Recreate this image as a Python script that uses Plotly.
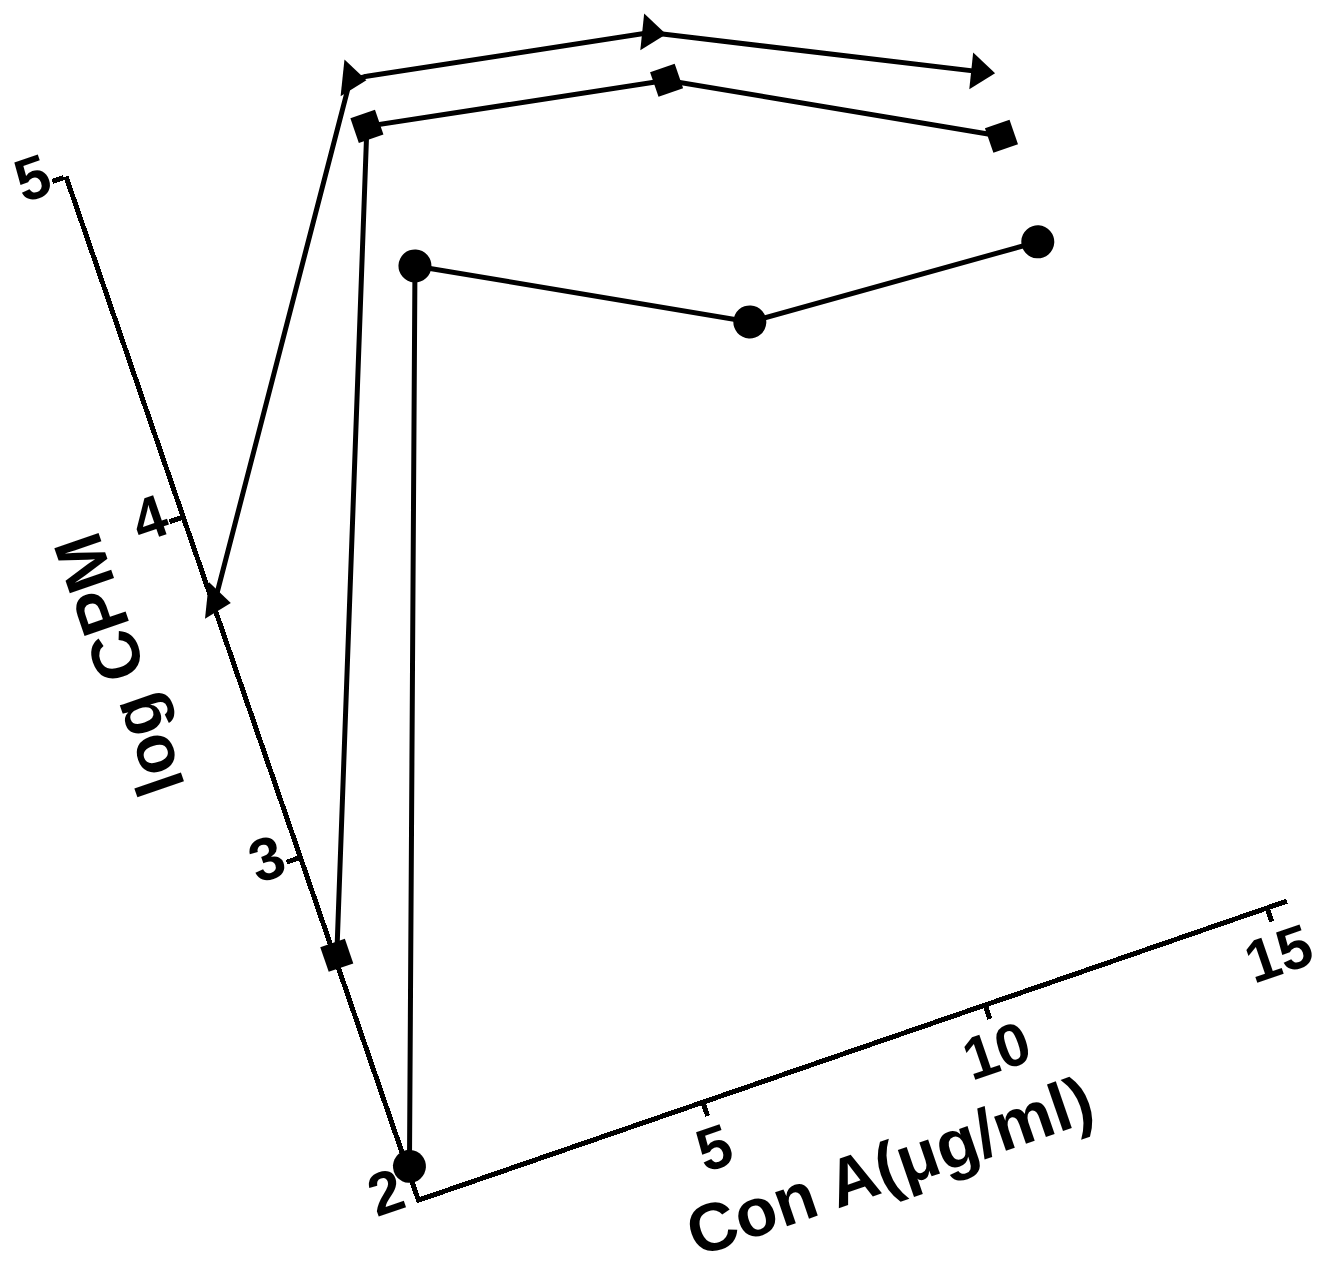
import plotly.graph_objects as go

# Con A dose (µg/ml) and log CPM for the three cell preparations
conc = [0, 5, 10, 15]
log_cpm_circle = [2.09, 4.45, 4.00, 3.95]
log_cpm_square = [2.71, 4.86, 4.71, 4.26]
log_cpm_triangle = [3.75, 5.00, 4.85, 4.45]

x_tick_vals = [5, 10, 15]
y_tick_vals = [3, 4, 5]
y_base_tick = [2]

x_title = "Con A(μg/ml)"
y_title = "log CPM"

# Page geometry: the whole chart is drawn upright and then tilted counter-clockwise
W, H = 1332, 1276
MARGIN = dict(l=200, r=216, t=64, b=132)
TILT_DEG = 19
ORIGIN_ON_PAGE = (420, 1197)

INK = "black"
LINE_W = 5
FONT = dict(family="Liberation Sans, Arial, sans-serif", size=60, color=INK, weight="bold")
TITLE_FONT = dict(FONT, size=68)

fig = go.Figure()

series = [
    (log_cpm_triangle, dict(symbol="triangle-right", size=32, angle=25)),
    (log_cpm_square, dict(symbol="square", size=26)),
    (log_cpm_circle, dict(symbol="circle", size=33)),
]
for values, mk in series:
    fig.add_trace(go.Scatter(
        x=conc, y=values, mode="lines+markers",
        line=dict(color=INK, width=LINE_W),
        marker=dict(color=INK, line=dict(width=0), **mk),
        cliponaxis=False, showlegend=False, hoverinfo="skip",
    ))

# carrier trace for the secondary y axis that only holds the "2" label
fig.add_trace(go.Scatter(x=[None], y=[None], yaxis="y2", showlegend=False, hoverinfo="skip"))

axis_common = dict(
    showline=True, linewidth=LINE_W, linecolor=INK,
    ticks="outside", ticklen=12, tickwidth=LINE_W, tickcolor=INK,
    showgrid=False, zeroline=False, tickfont=FONT, automargin=False,
)

fig.update_layout(
    width=W, height=H, margin=dict(MARGIN, autoexpand=False),
    paper_bgcolor="white", plot_bgcolor="white",
    xaxis=dict(range=[0, 15.35], tickmode="array", tickvals=x_tick_vals,
               ticklabelstandoff=-19, ticklabelshift=-4, **axis_common),
    yaxis=dict(range=[2, 5], tickmode="array", tickvals=y_tick_vals,
               ticklabelstandoff=-11, ticklabelshift=-10, **axis_common),
    yaxis2=dict(range=[2, 5], overlaying="y", side="left", anchor="x",
                tickmode="array", tickvals=y_base_tick, ticks="outside", ticklen=12,
                tickwidth=LINE_W, tickcolor="rgba(0,0,0,0)", showline=False,
                showgrid=False, zeroline=False, tickfont=FONT, automargin=False,
                ticklabelstandoff=-11, ticklabelshift=-16),
    annotations=[
        dict(text=y_title, xref="x domain", x=0, xshift=-112, yref="y", y=3.67,
             textangle=-90, showarrow=False, xanchor="center", yanchor="middle",
             font=TITLE_FONT),
        dict(text=x_title, xref="x", x=7.6, yref="y domain", y=0, yshift=-123,
             showarrow=False, xanchor="center", yanchor="middle",
             font=TITLE_FONT),
    ],
)

# tilt the finished chart around its axis origin; let text spill past the svg box
ox = MARGIN["l"]
oy = H - MARGIN["b"]
dx = ORIGIN_ON_PAGE[0] - ox
dy = ORIGIN_ON_PAGE[1] - oy
tilt_js = (
    "var gd=document.getElementsByClassName('plotly-graph-div')[0];"
    "document.documentElement.style.overflow='hidden';"
    "document.body.style.margin='0';document.body.style.overflow='hidden';"
    "gd.querySelectorAll('svg').forEach(function(s){s.style.overflow='visible';});"
    f"gd.style.transformOrigin='{ox}px {oy}px';"
    f"gd.style.transform='translate({dx}px,{dy}px) rotate(-{TILT_DEG}deg)';"
)

fig.write_html("out.html", post_script=tilt_js, config={"displayModeBar": False})
